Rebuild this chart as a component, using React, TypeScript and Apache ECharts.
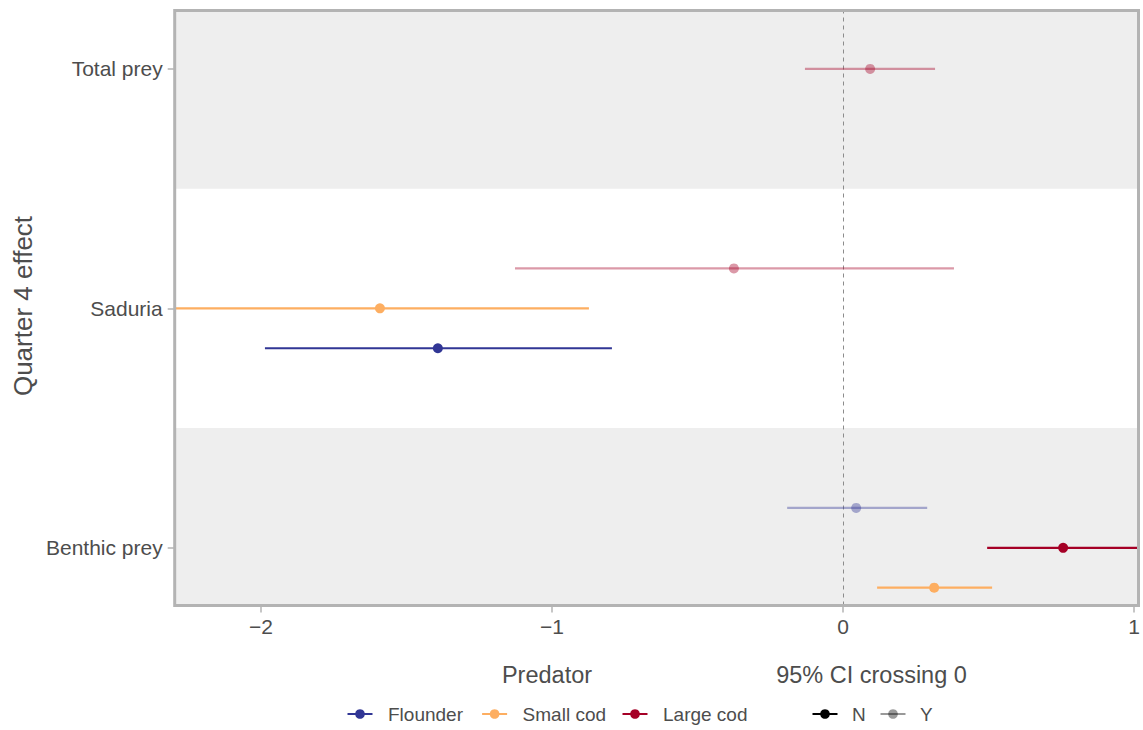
import React, { useEffect, useRef } from "react";
import * as echarts from "echarts";

// ---- data ----
const outcomes = ["Benthic prey", "Saduria", "Total prey"];
const predators = ["Flounder", "Small cod", "Large cod"];
const predatorColors = ["#313695", "#FDAE61", "#A50026"];
const ciLevels = ["N", "Y"];
const ciOpacity = [1, 0.4];
const xTicks = [-2, -1, 0, 1];

const rowOutcome = ["Total prey", "Saduria", "Saduria", "Saduria", "Benthic prey", "Benthic prey", "Benthic prey"];
const rowPredator = ["Large cod", "Large cod", "Small cod", "Flounder", "Flounder", "Large cod", "Small cod"];
const rowEstimate = [0.093, -0.375, -1.591, -1.392, 0.045, 0.756, 0.313];
const rowLower = [-0.131, -1.127, -2.45, -1.986, -0.192, 0.495, 0.117];
const rowUpper = [0.316, 0.381, -0.873, -0.794, 0.289, 1.05, 0.512];
const rowCrosses0 = ["Y", "Y", "N", "N", "Y", "N", "N"];
const rowDodgeSlot = [0, 1, 0, -1, 1, 0, -1];

// ---- layout ----
const DODGE = 1 / 6;
const FONT = "Liberation Sans, Arial, Helvetica, sans-serif";
const TEXT = "#4d4d4d";
const GRID = { left: 174.7, right: 4.5, top: 10.5, bottom: 124.5 };
const W = 1143;
const H = 730;
const predLegendX = [360, 494.6, 635];
const ciLegendX = [825, 893];
const POINT_R = 5;

export default function App() {
  const ref = useRef<HTMLDivElement>(null);
  useEffect(() => {
    const chart = echarts.init(ref.current!, null, { renderer: "svg" });

    const errData = rowEstimate.map((est, i) => [
      est,
      rowLower[i],
      rowUpper[i],
      outcomes.indexOf(rowOutcome[i]) + 1 + rowDodgeSlot[i] * DODGE,
      predators.indexOf(rowPredator[i]),
      ciLevels.indexOf(rowCrosses0[i]),
    ]);

    const bandData = outcomes.map((o, i) => [i + 1, i % 2 === 0 ? 1 : 0]);

    const clampX = (x: number, cs: any) => Math.max(cs.x, Math.min(cs.x + cs.width, x));
    const clampY = (y: number, cs: any) => Math.max(cs.y, Math.min(cs.y + cs.height, y));

    const legendItems: any[] = [];
    predators.forEach((p, i) => {
      const cx = predLegendX[i];
      legendItems.push(
        { type: "line", shape: { x1: cx - 12.5, y1: 714, x2: cx + 12.5, y2: 714 }, style: { stroke: predatorColors[i], lineWidth: 2 } },
        { type: "circle", shape: { cx, cy: 714, r: 4.8 }, style: { fill: predatorColors[i] } },
        {
          type: "text",
          x: cx + 28,
          y: 714,
          style: { text: p, fontSize: 19, fontFamily: FONT, fill: TEXT, textAlign: "left", textVerticalAlign: "middle", align: "left", verticalAlign: "middle" },
        }
      );
    });
    ciLevels.forEach((c, i) => {
      const cx = ciLegendX[i];
      legendItems.push(
        { type: "line", shape: { x1: cx - 12.5, y1: 714, x2: cx + 12.5, y2: 714 }, style: { stroke: "#000", lineWidth: 2, opacity: ciOpacity[i] } },
        { type: "circle", shape: { cx, cy: 714, r: 4.8 }, style: { fill: "#000", opacity: ciOpacity[i] } },
        {
          type: "text",
          x: cx + 27,
          y: 714,
          style: { text: c, fontSize: 19, fontFamily: FONT, fill: TEXT, textAlign: "left", textVerticalAlign: "middle", align: "left", verticalAlign: "middle" },
        }
      );
    });

    const option: any = {
      animation: false,
      textStyle: { fontFamily: FONT },
      grid: { ...GRID, show: false },
      xAxis: {
        type: "value",
        min: -2.296,
        max: 1.013,
        axisLine: { show: false, onZero: false },
        splitLine: { show: false },
        axisTick: { show: true, customValues: xTicks, length: 7, lineStyle: { color: "#b3b3b3", width: 1.5 } },
        axisLabel: {
          customValues: xTicks,
          color: TEXT,
          fontSize: 21,
          margin: 10,
          fontFamily: FONT,
          formatter: (v: number) => (v < 0 ? "\u2212" + Math.abs(v) : String(v)),
        },
      },
      yAxis: {
        type: "value",
        min: 0.759,
        max: 3.244,
        axisLine: { show: false, onZero: false },
        splitLine: { show: false },
        axisTick: { show: true, customValues: [1, 2, 3], length: 7, lineStyle: { color: "#b3b3b3", width: 1.5 } },
        axisLabel: {
          customValues: [1, 2, 3],
          color: TEXT,
          fontSize: 21,
          margin: 12,
          fontFamily: FONT,
          formatter: (v: number) => outcomes[Math.round(v) - 1] ?? "",
        },
      },
      series: [
        {
          type: "custom",
          z: 0,
          silent: true,
          data: bandData,
          encode: { y: 0 },
          renderItem: (params: any, api: any) => {
            if (api.value(1) === 0) return null;
            const cs = params.coordSys;
            const y = api.value(0);
            const top = clampY(api.coord([0, y + 0.5])[1], cs);
            const bottom = clampY(api.coord([0, y - 0.5])[1], cs);
            return { type: "rect", shape: { x: cs.x, y: top, width: cs.width, height: bottom - top }, style: { fill: "#EEEEEE" } };
          },
          markLine: {
            silent: true,
            symbol: ["none", "none"],
            label: { show: false },
            lineStyle: { type: [4, 4], color: "#8c8c8c", width: 1 },
            data: [{ xAxis: 0 }],
          },
        },
        {
          type: "custom",
          z: 5,
          silent: true,
          data: errData,
          encode: { x: [0, 1, 2], y: 3 },
          renderItem: (params: any, api: any) => {
            const cs = params.coordSys;
            const y = api.value(3);
            const color = predatorColors[api.value(4)];
            const op = ciOpacity[api.value(5)];
            const p0 = api.coord([api.value(1), y]);
            const p1 = api.coord([api.value(2), y]);
            const pe = api.coord([api.value(0), y]);
            return {
              type: "group",
              children: [
                { type: "line", shape: { x1: clampX(p0[0], cs), y1: p0[1], x2: clampX(p1[0], cs), y2: p1[1] }, style: { stroke: color, lineWidth: 2.2, opacity: op } },
                { type: "circle", shape: { cx: pe[0], cy: pe[1], r: POINT_R }, style: { fill: color, opacity: op } },
              ],
            };
          },
        },
      ],
      graphic: [
        {
          type: "rect",
          z: 100,
          silent: true,
          shape: { x: GRID.left, y: GRID.top, width: W - GRID.left - GRID.right, height: H - GRID.top - GRID.bottom },
          style: { fill: "rgba(0,0,0,0)", stroke: "#b3b3b3", lineWidth: 3 },
        },
        {
          type: "text",
          x: 22.5,
          y: 306,
          rotation: Math.PI / 2,
          style: { text: "Quarter 4 effect", fontSize: 26, fontFamily: FONT, fill: TEXT, textAlign: "center", textVerticalAlign: "middle", align: "center", verticalAlign: "middle" },
        },
        {
          type: "text",
          x: 547,
          y: 675,
          style: { text: "Predator", fontSize: 23.5, fontFamily: FONT, fill: TEXT, textAlign: "center", textVerticalAlign: "middle", align: "center", verticalAlign: "middle" },
        },
        {
          type: "text",
          x: 871.5,
          y: 675,
          style: { text: "95% CI crossing 0", fontSize: 23.5, fontFamily: FONT, fill: TEXT, textAlign: "center", textVerticalAlign: "middle", align: "center", verticalAlign: "middle" },
        },
        ...legendItems,
      ],
    };
    chart.setOption(option);
    return () => chart.dispose();
  }, []);
  return <div ref={ref} style={{ position: "absolute", left: 0, top: 0, width: W, height: H }} />;
}
